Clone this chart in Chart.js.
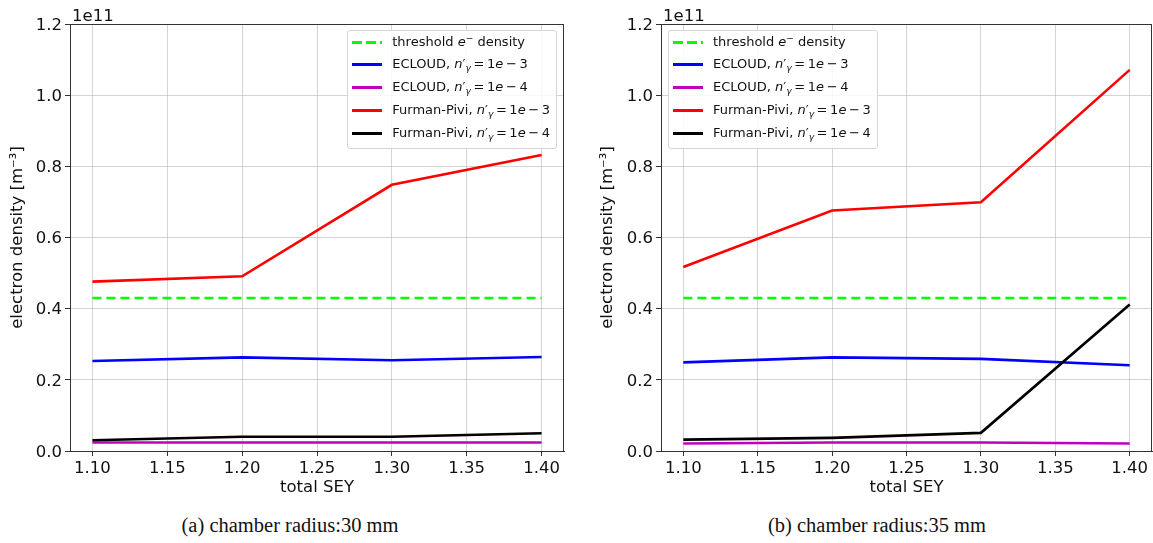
<!DOCTYPE html>
<html>
<head>
<meta charset="utf-8">
<script src="https://cdn.jsdelivr.net/npm/chart.js@4.4.1/dist/chart.umd.min.js"></script>
<style>
body { margin:0; background:#fff; width:1153px; height:543px; overflow:hidden; position:relative; font-family:"DejaVu Sans", sans-serif; color:#111; }
canvas { position:absolute; top:0; }
#c1 { left:0; }
#c2 { left:590px; }
.legend { position:absolute; top:30px; background:rgba(255,255,255,0.85); border:1px solid #d6d6d6; border-radius:3px; padding:0 6px 4px 4px; font-size:13px; }
.legend .row { height:23px; line-height:23px; white-space:nowrap; }
.legend .row:first-child { height:21px; line-height:21px; }
.legend .sw { display:inline-block; width:30px; height:3px; vertical-align:middle; margin-right:10px; }
.legend sub { font-size:70%; vertical-align:-0.35em; line-height:0; }
.legend sup { font-size:70%; vertical-align:0.5em; line-height:0; }
.caption { position:absolute; top:513px; width:400px; text-align:center; font-family:"Liberation Serif", serif; font-size:20.5px; line-height:24px; }
</style>
</head>
<body>
<canvas id="c1" width="576" height="500"></canvas>
<canvas id="c2" width="563" height="500"></canvas>
<div class="legend" id="leg1" style="right:596px"></div>
<div class="legend" id="leg2" style="left:668px"></div>
<div class="caption" style="left:90px">(a) chamber radius:30 mm</div>
<div class="caption" style="left:677px">(b) chamber radius:35 mm</div>
<script>
// x values (total SEY) and ticks
var sey = [1.10, 1.20, 1.30, 1.40];
var xTicks = [1.10, 1.15, 1.20, 1.25, 1.30, 1.35, 1.40];
var yTicks = [0, 0.2, 0.4, 0.6, 0.8, 1.0, 1.2];
var offsetText = '1e11';

// electron density, in units of 1e11 m^-3
var threshold = [0.43, 0.43, 0.43, 0.43];

// chamber radius 30 mm
var ecloud3_r30 = [0.253, 0.263, 0.255, 0.264];
var ecloud4_r30 = [0.024, 0.024, 0.024, 0.024];
var furman3_r30 = [0.476, 0.491, 0.748, 0.832];
var furman4_r30 = [0.030, 0.040, 0.040, 0.050];

// chamber radius 35 mm
var ecloud3_r35 = [0.249, 0.263, 0.259, 0.241];
var ecloud4_r35 = [0.021, 0.024, 0.024, 0.021];
var furman3_r35 = [0.517, 0.676, 0.699, 1.071];
var furman4_r35 = [0.032, 0.037, 0.051, 0.412];

var names = ['threshold e- density', 'ECLOUD, n\'γ=1e-3', 'ECLOUD, n\'γ=1e-4', 'Furman-Pivi, n\'γ=1e-3', 'Furman-Pivi, n\'γ=1e-4'];
var legendHtml = [
  'threshold <i>e</i><sup>−</sup> density',
  'ECLOUD, <i>n</i>′<sub><i>γ</i></sub>&thinsp;=&thinsp;1<i>e</i>&thinsp;−&thinsp;3',
  'ECLOUD, <i>n</i>′<sub><i>γ</i></sub>&thinsp;=&thinsp;1<i>e</i>&thinsp;−&thinsp;4',
  'Furman-Pivi, <i>n</i>′<sub><i>γ</i></sub>&thinsp;=&thinsp;1<i>e</i>&thinsp;−&thinsp;3',
  'Furman-Pivi, <i>n</i>′<sub><i>γ</i></sub>&thinsp;=&thinsp;1<i>e</i>&thinsp;−&thinsp;4'
];
var colors = ['#00ff00', '#0000ff', '#bf00bf', '#ff0000', '#000000'];

var framePlugin = {
  id: 'frame',
  afterDraw: function (chart) {
    var ctx = chart.ctx, a = chart.chartArea;
    ctx.save();
    ctx.strokeStyle = '#333';
    ctx.lineWidth = 1;
    ctx.strokeRect(Math.round(a.left) + 0.5, Math.round(a.top) + 0.5, Math.round(a.right - a.left) - 1, Math.round(a.bottom - a.top));
    ctx.fillStyle = '#111';
    ctx.font = '16.5px "DejaVu Sans"';
    ctx.textBaseline = 'alphabetic';
    ctx.fillText(offsetText, a.left + 2, a.top - 3);
    ctx.restore();
  }
};

function makeChart(id, series, yWidth, padRight) {
  var datasets = series.map(function (s, i) {
    return {
      label: names[i],
      data: sey.map(function (x, j) { return { x: x, y: s[j] }; }),
      borderColor: colors[i],
      backgroundColor: colors[i],
      borderWidth: 2.6,
      borderDash: i === 0 ? [9, 5] : [],
      pointRadius: 0,
      tension: 0,
      fill: false,
      order: series.length - i
    };
  });
  return new Chart(document.getElementById(id), {
    type: 'line',
    data: { datasets: datasets },
    options: {
      responsive: false,
      animation: false,
      devicePixelRatio: 1,
      layout: { padding: { top: 24, right: padRight, left: 0, bottom: 0 } },
      plugins: { legend: { display: false }, tooltip: { enabled: false } },
      scales: {
        x: {
          type: 'linear',
          min: 1.085,
          max: 1.415,
          afterBuildTicks: function (s) { s.ticks = xTicks.map(function (v) { return { value: v }; }); },
          afterFit: function (s) { s.height = 49; },
          ticks: { color: '#111', font: { family: 'DejaVu Sans', size: 16.5 }, padding: 3, maxRotation: 0, autoSkip: false,
            callback: function (v) { return v.toFixed(2); } },
          grid: { color: 'rgba(176,176,176,0.55)', lineWidth: 1, tickColor: '#333', tickLength: 5 },
          border: { color: '#333', width: 1 },
          title: { display: true, text: 'total SEY', color: '#111', font: { family: 'DejaVu Sans', size: 16.5 }, padding: { top: 2, bottom: 2 } }
        },
        y: {
          min: 0,
          max: 1.2,
          afterBuildTicks: function (s) { s.ticks = yTicks.map(function (v) { return { value: v }; }); },
          afterFit: function (s) { s.width = yWidth; },
          ticks: { color: '#111', font: { family: 'DejaVu Sans', size: 16.5 }, padding: 3, labelOffset: 1.5,
            callback: function (v) { return v.toFixed(1); } },
          grid: { color: 'rgba(176,176,176,0.55)', lineWidth: 1, tickColor: '#333', tickLength: 5 },
          border: { color: '#333', width: 1 },
          title: { display: true, text: 'electron density [m⁻³]', color: '#111', font: { family: 'DejaVu Sans', size: 16.5 }, padding: { top: 8, bottom: 2 } }
        }
      }
    },
    plugins: [framePlugin]
  });
}

function makeLegend(id) {
  var el = document.getElementById(id);
  var html = '';
  for (var i = 0; i < legendHtml.length; i++) {
    var sw = i === 0
      ? 'background:repeating-linear-gradient(to right,' + colors[i] + ' 0 10px, transparent 10px 14px);'
      : 'background:' + colors[i] + ';';
    html += '<div class="row"><span class="sw" style="' + sw + '"></span>' + legendHtml[i] + '</div>';
  }
  el.innerHTML = html;
}

makeChart('c1', [threshold, ecloud3_r30, ecloud4_r30, furman3_r30, furman4_r30], 70, 12);
makeChart('c2', [threshold, ecloud3_r35, ecloud4_r35, furman3_r35, furman4_r35], 71, 1);
makeLegend('leg1');
makeLegend('leg2');
</script>
</body>
</html>
